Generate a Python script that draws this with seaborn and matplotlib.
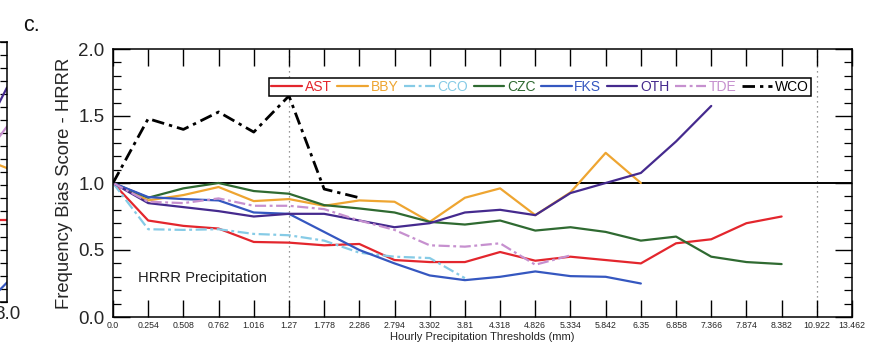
import numpy as np
import pandas as pd
import matplotlib
matplotlib.use("Agg")
import matplotlib.pyplot as plt
from matplotlib.ticker import MultipleLocator
import seaborn as sns

# Hourly precipitation thresholds (mm), plotted as equally spaced categories
thresholds = ["0.0", "0.254", "0.508", "0.762", "1.016", "1.27", "1.778", "2.286",
              "2.794", "3.302", "3.81", "4.318", "4.826", "5.334", "5.842", "6.35",
              "6.858", "7.366", "7.874", "8.382", "10.922", "13.462"]

# Frequency bias score of HRRR precipitation per station
ast = [1.0, 0.72, 0.68, 0.66, 0.56, 0.555, 0.535, 0.545, 0.425, 0.41, 0.41, 0.485,
       0.42, 0.45, 0.425, 0.40, 0.55, 0.58, 0.70, 0.75]
bby = [1.0, 0.87, 0.91, 0.97, 0.865, 0.88, 0.83, 0.87, 0.86, 0.71, 0.89, 0.96,
       0.76, 0.93, 1.225, 1.0]
cco = [1.0, 0.655, 0.65, 0.655, 0.62, 0.61, 0.57, 0.48, 0.45, 0.44, 0.29]
czc = [1.0, 0.89, 0.96, 1.0, 0.94, 0.92, 0.835, 0.81, 0.78, 0.71, 0.69, 0.72,
       0.645, 0.67, 0.635, 0.57, 0.60, 0.45, 0.41, 0.395]
fks = [1.0, 0.895, 0.88, 0.87, 0.78, 0.77, 0.635, 0.50, 0.40, 0.31, 0.275, 0.30,
       0.34, 0.305, 0.30, 0.25]
oth = [1.0, 0.85, 0.82, 0.79, 0.75, 0.77, 0.77, 0.72, 0.67, 0.70, 0.78, 0.80,
       0.76, 0.925, 1.0, 1.075, 1.31, 1.575]
tde = [1.0, 0.86, 0.85, 0.885, 0.83, 0.83, 0.805, 0.72, 0.65, 0.535, 0.525, 0.55,
       0.39, 0.46]
wco = [1.0, 1.48, 1.40, 1.53, 1.38, 1.65, 0.955, 0.89]

stations = ["AST", "BBY", "CCO", "CZC", "FKS", "OTH", "TDE", "WCO"]
series = [ast, bby, cco, czc, fks, oth, tde, wco]
colors = ["#e3262d", "#eea531", "#86cbe6", "#2f6a31", "#3557c0", "#452a8e",
          "#c690cf", "#000000"]
styles = ["-", "-", (0, (5, 1.6, 1.3, 1.6)), "-", "-", "-",
          (0, (5, 1.6, 1.3, 1.6)), (0, (4.5, 1.8, 1.2, 1.8))]
widths = [1.6, 1.6, 1.6, 1.6, 1.6, 1.6, 1.6, 2.0]

# Right edge of the neighbouring panel (b) visible at the left border
panel_b_x = [7.7, 8.0]
panel_b_oth = [1.40, 1.65]
panel_b_tde = [1.18, 1.35]
panel_b_bby = [1.08, 1.03]
panel_b_ast = [0.63, 0.63]
panel_b_fks = [0.02, 0.15]

sns.set_theme(style="ticks")
plt.rcParams["font.family"] = ["Liberation Sans", "DejaVu Sans"]
plt.rcParams["axes.linewidth"] = 1.1

fig = plt.figure(figsize=(8.71, 3.42), dpi=100)

# ---- fragment of panel b ----
axb = fig.add_axes([-0.5, 40 / 342, 0.5 + 7 / 871, 260 / 342])
for yv, col in zip([panel_b_oth, panel_b_tde, panel_b_bby, panel_b_ast, panel_b_fks],
                   [colors[5], colors[6], colors[1], colors[0], colors[4]]):
    sns.lineplot(x=panel_b_x, y=yv, ax=axb, color=col, linewidth=1.6)
axb.set_xlim(0, 8)
axb.set_ylim(0, 2)
axb.set_xticks([8.0])
axb.set_xticklabels(["8.0"], fontsize=13.5)
axb.set_yticks([])
axb.yaxis.set_minor_locator(MultipleLocator(0.1))
axb.tick_params(axis="y", which="minor", right=True, left=False, direction="in",
                length=5, width=0.9, color="black")
axb.tick_params(axis="x", length=0, pad=3)
for s in axb.spines.values():
    s.set_color("black")

# ---- main panel c ----
ax = fig.add_axes([113 / 871, 25 / 342, 739 / 871, 268 / 342])

for name, vals, col, ls, lw in zip(stations, series, colors, styles, widths):
    df = pd.DataFrame({"x": np.arange(len(vals)), "y": vals})
    sns.lineplot(data=df, x="x", y="y", ax=ax, color=col, linestyle=ls,
                 linewidth=lw, label=name)

ax.axhline(1.0, color="black", linewidth=1.4, zorder=1)
for xv in [5, 20]:
    ax.axvline(xv, color="#777777", linewidth=0.9, linestyle=(0, (1, 3)), zorder=0)

ax.set_xlim(0, len(thresholds) - 1)
ax.set_ylim(0, 2.0)
ax.set_xticks(np.arange(len(thresholds)))
ax.set_xticklabels(thresholds, fontsize=6.3)
ax.set_yticks([0.0, 0.5, 1.0, 1.5, 2.0])
ax.set_yticklabels(["0.0", "0.5", "1.0", "1.5", "2.0"], fontsize=13.5)
ax.yaxis.set_minor_locator(MultipleLocator(0.1))
ax.tick_params(axis="y", which="major", direction="in", left=True, right=True,
               length=12.5, width=1.0, pad=6, color="black")
ax.tick_params(axis="y", which="minor", direction="in", left=True, right=True,
               length=6, width=0.9, color="black")
ax.tick_params(axis="x", which="major", direction="in", bottom=True, top=True,
               length=12.5, width=1.0, pad=3, color="black")
for s in ax.spines.values():
    s.set_color("black")
    s.set_linewidth(1.1)

ax.set_xlabel("Hourly Precipitation Thresholds (mm)", fontsize=8, labelpad=1.5)
ax.set_ylabel("Frequency Bias Score - HRRR", fontsize=13.3, labelpad=4)

ax.text(0.034, 0.13, "HRRR Precipitation", transform=ax.transAxes,
        fontsize=10.6, color="#222222", va="baseline", ha="left")

leg = ax.legend(loc="center", bbox_to_anchor=(0.578, 0.858), ncol=8, fontsize=10,
                frameon=True, fancybox=False, shadow=False, handlelength=2.2,
                handletextpad=0.2, columnspacing=0.4, borderpad=0.15,
                borderaxespad=0)
leg.get_frame().set_edgecolor("black")
leg.get_frame().set_linewidth(1.1)
leg.get_frame().set_alpha(1)
for txt, line in zip(leg.get_texts(), leg.get_lines()):
    txt.set_color(line.get_color())

fig.text(23 / 871, 1 - 31 / 342, "c.", fontsize=15.5, color="#111111",
         ha="left", va="baseline")

fig.savefig("out.png", dpi=100)
